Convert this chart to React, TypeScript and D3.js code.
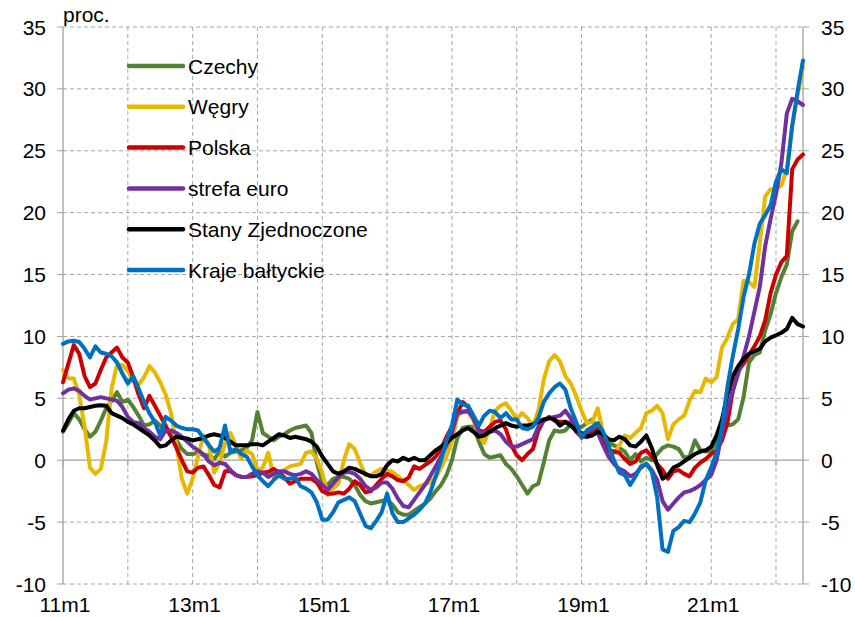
import React from "react";
import * as d3 from "d3";

const startYear = 11;
const monthCount = 138;
const categories: string[] = Array.from({ length: monthCount }, (_, i) => `${startYear + Math.floor(i / 12)}m${(i % 12) + 1}`);
const tickLabels = ["11m1", "13m1", "15m1", "17m1", "19m1", "21m1"];
const gridCategories = ["12m1", "13m1", "14m1", "15m1", "16m1", "17m1", "18m1", "19m1", "20m1", "21m1", "22m1"];
const yTicks = [35, 30, 25, 20, 15, 10, 5, 0, -5, -10];

const czechy: (number | null)[] = [
  2.3, 3.0, 3.8, 3.3, 2.5, 1.9, 2.3, 3.2, 4.2, 4.8, 5.5, 4.7,
  4.9, 4.3, 3.6, 2.8, 2.9, 3.2, 2.8, 2.5, 2.0, 1.6, 0.9, 0.5,
  0.5, 0.6, 0.4, 0.4, 0.1, 0.7, 0.3, 0.6, 0.7, 0.8, 1.0, 1.6,
  3.9, 2.2, 1.9, 1.6, 1.9, 2.1, 2.4, 2.6, 2.7, 2.8, 2.2, -0.2,
  -1.8, -2.0, -1.5, -1.35, -1.35, -1.5, -2.0, -2.8, -3.3, -3.5, -3.4, -3.3,
  -3.2, -3.6, -4.2, -4.4, -4.4, -4.1, -3.8, -3.5, -3.1, -2.5, -2.0, -1.2,
  0.0, 1.8, 2.6, 2.7, 2.7, 1.5, 0.5, 0.2, 0.3, 0.4, -0.3, -0.7,
  -1.3, -2.0, -2.7, -2.1, -1.9, -0.2, 1.6, 2.4, 2.3, 2.4, 2.9, 2.7,
  2.7, 3.0, 3.3, 2.4, 1.9, 1.4, 1.2, 1.0, 0.7, 0.0, 0.5, -0.1,
  0.2, 0.0, 0.5, 1.0, 1.2, 1.1, 0.9, 0.2, 0.3, 1.6, 0.8, 0.7,
  0.8, 1.5, 2.7, 2.8, 2.9, 3.3, 5.1, 7.9, 8.5, 8.7, 10.5, 11.8,
  13.5, 14.8, 15.8, 18.5, 19.3, null,
];

const wegry: (number | null)[] = [
  7.3, 6.6, 6.6, 5.3, 2.7, -0.6, -1.1, -0.7, 1.5, 5.8, 7.7, 7.7,
  7.2, 6.4, 6.1, 6.7, 7.6, 7.1, 6.3, 5.3, 3.8, 1.2, -1.5, -2.7,
  -1.5, 0.3, 2.0, 1.3, -1.0, -0.2, 1.4, 2.2, 1.2, 0.1, 0.8, 0.5,
  -0.8, -0.6, 0.6, -1.4, -1.3, -0.8, -0.5, -0.4, -0.3, 0.6, 0.7, 0.1,
  -1.0, -2.8, -2.3, -1.9, 0.0, 1.3, 0.9, -0.2, -1.2, -1.2, -0.9, -0.7,
  -0.8, -0.95, -1.3, -1.6, -2.0, -2.4, -2.1, -1.9, -1.8, -1.4, -0.6, 0.3,
  1.5, 3.5, 4.0, 3.9, 3.2, 2.0, 1.4, 2.6, 4.0, 4.4, 4.6, 4.0,
  3.3, 3.8, 3.4, 2.8, 4.0, 6.5, 8.0, 8.5, 8.0, 6.8, 6.2, 5.2,
  4.0, 3.0, 3.1, 4.2, 2.2, 0.3, 0.6, 1.2, 2.0, 1.8, 2.2, 2.6,
  3.8, 4.0, 4.4, 3.8, 1.7, 2.9, 3.3, 3.6, 4.8, 5.6, 5.5, 6.6,
  6.3, 6.7, 9.1, 9.9, 11.0, 11.4, 14.5, 14.4, 14.0, 17.5, 21.3, 21.9,
  21.9, 22.2, 23.5, 27.0, 29.5, 31.8,
];

const polska: (number | null)[] = [
  6.3, 7.8, 9.3, 8.6, 6.8, 5.9, 6.2, 7.3, 8.3, 8.7, 9.1, 8.3,
  7.9, 6.7, 5.3, 4.2, 5.2, 4.4, 3.6, 2.8, 1.9, 1.0, 0.0, -0.9,
  -1.0, -0.6, -0.5, -1.2, -2.0, -2.2, -0.9, -0.9, -1.2, -1.35, -1.35, -1.3,
  -1.2, -1.0, -0.95, -0.7, -1.0, -1.4, -1.9, -1.7, -1.5, -1.5, -1.5, -1.8,
  -2.5, -2.7, -2.7, -2.6, -2.7, -2.3, -1.7, -2.0, -2.6, -2.5, -2.0, -1.5,
  -1.1, -1.3, -1.6, -1.7, -1.4, -0.5, -0.7, -0.4, -0.1, 0.3, 0.9, 1.9,
  2.7, 3.8, 4.7, 4.3, 3.4, 2.4, 2.3, 2.7, 3.1, 3.2, 2.5, 1.2,
  0.4, 0.0, 0.5, 0.9, 2.4, 3.2, 3.5, 3.2, 3.1, 3.1, 3.0, 2.3,
  1.9, 1.9, 2.3, 2.5, 1.5, 0.8, 0.7, 0.6, 0.1, -0.3, -0.1, 0.6,
  0.8, 0.3, -0.3, -0.8, -1.5, -0.9, -0.8, -1.1, -1.3, -0.6, -0.2, 0.1,
  0.5, 0.8, 1.6, 3.0, 5.6, 7.2, 7.8, 8.5, 9.2, 10.0, 11.3, 13.5,
  15.0, 16.0, 16.5, 23.5, 24.3, 24.7,
];

const strefaEuro: (number | null)[] = [
  5.4, 5.7, 5.8, 5.6, 5.2, 4.9, 5.0, 5.1, 5.0, 4.9, 4.8, 4.3,
  3.5, 3.1, 3.0, 2.6, 2.3, 1.9, 1.7, 2.4, 2.4, 2.2, 1.9, 1.5,
  1.1, 0.8, 0.5, -0.1, -0.4, -0.2, -0.3, -0.8, -1.2, -1.35, -1.35, -1.1,
  -0.9, -1.0, -1.35, -1.1, -0.9, -0.9, -1.1, -1.2, -1.1, -0.9, -1.1, -1.6,
  -2.0, -2.4, -1.9, -1.4, -1.0, -0.95, -1.1, -1.5, -2.1, -2.4, -2.2, -1.8,
  -1.8, -2.3, -3.1, -3.7, -3.8, -3.2, -2.6, -2.0, -1.3, -0.5, 0.3, 1.2,
  2.2, 3.8, 3.9, 4.0, 3.4, 2.3, 2.2, 2.3, 2.4, 2.1, 1.5, 1.1,
  1.1, 1.3, 1.5, 1.7, 2.7, 3.2, 3.4, 3.5, 3.6, 4.0, 3.4, 2.3,
  2.0, 2.3, 2.5, 2.2, 1.2, 0.3, -0.3, -0.7, -0.9, -1.3, -1.1, -0.6,
  -0.3, -0.8, -1.6, -3.3, -4.0, -3.5, -3.0, -2.6, -2.5, -2.3, -2.0, -1.6,
  -1.2, 0.0, 2.2, 4.0, 5.6, 7.0, 8.4, 10.0, 12.0, 14.0, 17.3, 19.5,
  21.5, 24.0, 28.0, 29.2, 29.0, 28.7,
];

const stany: (number | null)[] = [
  2.4, 3.3, 4.0, 4.2, 4.2, 4.3, 4.4, 4.45, 4.4, 3.8, 3.6, 3.4,
  3.1, 2.9, 2.6, 2.3, 2.0, 1.6, 1.1, 1.2, 1.6, 1.9, 1.8, 1.75,
  1.6, 1.7, 1.8, 2.0, 2.1, 2.0, 1.8, 1.5, 1.2, 1.2, 1.2, 1.3,
  1.3, 1.2, 1.5, 1.8, 2.1, 2.0, 1.8, 1.9, 1.8, 1.7, 1.5, 1.1,
  0.3, -0.3, -0.9, -1.1, -0.9, -0.6, -0.7, -0.9, -1.1, -1.3, -1.3, -1.1,
  -0.4, 0.0, -0.1, 0.2, 0.0, 0.2, 0.0, 0.0, 0.4, 0.8, 1.1, 1.4,
  1.8, 2.1, 2.4, 2.6, 2.3, 1.9, 2.0, 2.3, 2.6, 2.8, 3.0, 2.8,
  2.7, 2.8, 2.8, 2.9, 3.1, 3.3, 3.4, 3.3, 2.8, 3.1, 2.8, 2.4,
  2.2, 1.9, 2.0, 2.3, 2.1, 1.7, 1.6, 1.9, 1.7, 1.2, 1.1, 1.5,
  2.0, 1.0, -0.4, -1.5, -1.2, -0.6, -0.4, -0.1, 0.2, 0.5, 0.7, 0.8,
  1.1, 2.0, 3.3, 5.3, 6.8, 7.6, 8.2, 8.6, 8.8, 9.0, 9.6, 9.9,
  10.1, 10.3, 10.6, 11.5, 11.0, 10.8,
];

const krajeBaltyckie: (number | null)[] = [
  9.4, 9.6, 9.65, 9.55, 9.0, 8.3, 9.2, 8.7, 8.6, 8.4, 7.9, 7.0,
  6.2, 6.8, 5.8, 4.7, 3.8, 3.1, 2.0, 3.5, 3.2, 2.8, 2.6, 2.5,
  2.5, 2.4, 1.8, 1.2, 0.7, 1.0, 2.8, 0.7, 0.9, 0.5, 0.3, -0.5,
  -1.2, -1.7, -2.1, -1.6, -1.2, -1.5, -1.5, -1.4, -2.1, -2.3, -2.6, -3.4,
  -4.8, -4.8, -4.2, -3.4, -3.2, -3.0, -3.3, -4.3, -5.3, -5.5, -4.9, -4.2,
  -2.7, -4.3, -5.0, -5.0, -4.7, -4.4, -4.0, -3.5, -2.6, -1.3, 0.0, 1.6,
  2.8, 4.9, 4.5, 4.4, 3.6, 2.8, 3.6, 4.0, 3.9, 3.4, 3.8, 3.3,
  3.3, 2.6, 2.5, 2.7, 3.4, 4.7, 5.4, 5.9, 6.2, 5.7, 4.2, 3.1,
  1.8, 2.4, 2.7, 3.0, 2.3, 1.2, 0.0, -1.0, -1.2, -2.0, -1.3, -0.5,
  -0.3, -0.9, -3.0, -7.2, -7.4, -5.7, -5.4, -4.9, -5.0, -4.3, -3.4, -1.6,
  -0.6, 0.6, 2.7, 5.9, 8.4, 10.6, 13.2, 15.0, 17.5, 19.1, 19.8, 20.6,
  22.5, 23.5, 23.2, 27.0, 29.8, 32.3,
];

const seriesNames = ["Czechy", "Węgry", "Polska", "strefa euro", "Stany Zjednoczone", "Kraje bałtyckie"];
const seriesValues = [czechy, wegry, polska, strefaEuro, stany, krajeBaltyckie];
const seriesColors = ["#548235", "#E6B800", "#CC0000", "#7030A0", "#000000", "#0070C0"];

const W = 855;
const H = 617;
const FONT = "'Liberation Sans', Arial, sans-serif";

export default function App() {
  const x = d3.scaleLinear().domain([0, monthCount - 1]).range([63, 803]);
  const y = d3.scaleLinear().domain([-10, 35]).range([584, 27]);
  const idx = (c: string) => categories.indexOf(c);

  const line = d3
    .line<number | null>()
    .defined((d) => d !== null)
    .x((_, i) => x(i))
    .y((d) => y(d as number));

  const gridColor = "#A6A6A6";
  const axisColor = "#A0A0A0";

  return (
    <svg width={W} height={H} style={{ position: "absolute", left: 0, top: 0, background: "#fff" }} fontFamily={FONT}>
      <rect x={0} y={0} width={W} height={H} fill="#fff" />
      {yTicks.filter((v) => v !== 0).map((v) => (
        <line key={"h" + v} x1={x(0)} x2={x(monthCount - 1)} y1={y(v)} y2={y(v)} stroke={gridColor} strokeWidth={1} strokeDasharray="4,3" />
      ))}
      {gridCategories.map((c) => (
        <line key={"v" + c} x1={x(idx(c))} x2={x(idx(c))} y1={y(35)} y2={y(-10)} stroke={gridColor} strokeWidth={1} strokeDasharray="4,3" />
      ))}
      <line x1={x(0)} x2={x(monthCount - 1)} y1={y(0)} y2={y(0)} stroke={axisColor} strokeWidth={1.3} />
      {["11m1", ...gridCategories].map((c) => (
        <line key={"t" + c} x1={x(idx(c))} x2={x(idx(c))} y1={y(0)} y2={y(0) + 6} stroke={axisColor} strokeWidth={1} />
      ))}
      <line x1={x(0)} x2={x(0)} y1={y(35)} y2={y(-10)} stroke={axisColor} strokeWidth={1.3} />
      <line x1={x(monthCount - 1)} x2={x(monthCount - 1)} y1={y(35)} y2={y(-10)} stroke={axisColor} strokeWidth={1.3} />
      {yTicks.map((v) => (
        <g key={"yt" + v}>
          <line x1={x(0) - 6} x2={x(0)} y1={y(v)} y2={y(v)} stroke={axisColor} strokeWidth={1} />
          <line x1={x(monthCount - 1)} x2={x(monthCount - 1) + 6} y1={y(v)} y2={y(v)} stroke={axisColor} strokeWidth={1} />
          <text x={46} y={y(v) + 7.5} textAnchor="end" fontSize={21} fill="#000">{v}</text>
          <text x={821} y={y(v) + 7.5} textAnchor="start" fontSize={21} fill="#000">{v}</text>
        </g>
      ))}
      {tickLabels.map((c) => (
        <text key={"xl" + c} x={x(idx(c)) + 2} y={612} textAnchor="middle" fontSize={21} fill="#000">{c}</text>
      ))}
      <text x={63} y={22} fontSize={21} fill="#000">proc.</text>
      {seriesValues.map((vals, k) => (
        <path key={"s" + k} d={line(vals) || ""} fill="none" stroke={seriesColors[k]} strokeWidth={4} strokeLinejoin="round" strokeLinecap="round" />
      ))}
      {seriesNames.map((n, k) => {
        const ly = 66 + k * 40.8;
        return (
          <g key={"lg" + k}>
            <line x1={129} x2={183} y1={ly} y2={ly} stroke={seriesColors[k]} strokeWidth={4.5} strokeLinecap="round" />
            <text x={188} y={ly + 7.5} fontSize={21} fill="#000">{n}</text>
          </g>
        );
      })}
    </svg>
  );
}
